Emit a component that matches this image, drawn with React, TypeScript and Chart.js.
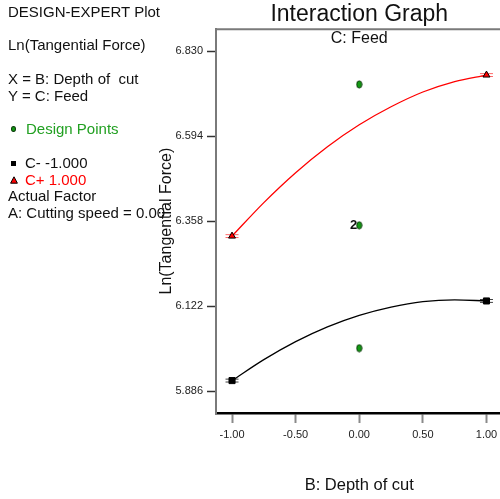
import React, { useEffect, useRef } from "react";
import { Chart, registerables } from "chart.js";

Chart.register(...registerables);

// ---- data ----
const xCurve = [-1, -0.75, -0.5, -0.25, 0, 0.25, 0.5, 0.75, 1];
const cPlusCurve = [6.317, 6.41, 6.493, 6.565, 6.626, 6.676, 6.717, 6.746, 6.764];
const cMinusCurve = [5.916, 5.974, 6.024, 6.065, 6.097, 6.12, 6.135, 6.14, 6.137];
const endX = [-1, 1];
const cPlusEnds = [6.317, 6.764];
const cMinusEnds = [5.916, 6.137];
const lsdHalf = 0.004;
const designX = [0, 0, 0];
const designY = [6.738, 6.347, 6.006];
const designCounts = [1, 2, 1];
const xTicks = [-1, -0.5, 0, 0.5, 1];
const yTicks = [5.886, 6.122, 6.358, 6.594, 6.83];
const xRange = [-1.126, 1.126];
const yRange = [5.826, 6.891];

const FONT = '"Liberation Sans", Arial, Helvetica, sans-serif';

const overlayPlugin = {
  id: "overlay",
  afterDatasetsDraw(chart: any) {
    const { ctx, chartArea, scales } = chart;
    ctx.save();
    ctx.strokeStyle = "#7a7a7a";
    ctx.lineWidth = 2;
    ctx.beginPath();
    ctx.moveTo(chartArea.left - 1, chartArea.top);
    ctx.lineTo(chartArea.right, chartArea.top);
    ctx.stroke();

    ctx.fillStyle = "#111";
    ctx.font = `16px ${FONT}`;
    ctx.textAlign = "center";
    ctx.textBaseline = "middle";
    ctx.fillText("C: Feed", (chartArea.left + chartArea.right) / 2, chartArea.top + 9.5);

    ctx.font = `bold 13px ${FONT}`;
    ctx.textAlign = "right";
    designCounts.forEach((c, i) => {
      if (c > 1) {
        const px = scales.x.getPixelForValue(designX[i]);
        const py = scales.y.getPixelForValue(designY[i]);
        ctx.fillStyle = "#111";
        ctx.fillText(String(c), px - 2, py);
      }
    });
    ctx.restore();
  },
};

const textLines = [
  { text: "DESIGN-EXPERT Plot", left: 8, center: 12, color: "#111" },
  { text: "Ln(Tangential Force)", left: 8, center: 45.3, color: "#111" },
  { text: "X = B: Depth of  cut", left: 8, center: 79.3, color: "#111" },
  { text: "Y = C: Feed", left: 8, center: 96, color: "#111" },
  { text: "Design Points", left: 26, center: 129.3, color: "#22a022" },
  { text: "C- -1.000", left: 25, center: 163.3, color: "#111" },
  { text: "C+ 1.000", left: 25, center: 180, color: "#ff0000" },
  { text: "Actual Factor", left: 8, center: 196, color: "#111" },
  { text: "A: Cutting speed = 0.00", left: 8, center: 212.7, color: "#111" },
];

export default function App() {
  const canvasRef = useRef<HTMLCanvasElement | null>(null);

  useEffect(() => {
    const canvas = canvasRef.current;
    if (!canvas) return;

    const ell = document.createElement("canvas");
    ell.width = 7;
    ell.height = 9;
    const ec = ell.getContext("2d")!;
    ec.beginPath();
    ec.ellipse(3.5, 4.5, 2.6, 3.6, 0, 0, Math.PI * 2);
    ec.fillStyle = "#139a13";
    ec.fill();
    ec.strokeStyle = "#0a3a0a";
    ec.lineWidth = 1;
    ec.stroke();

    const chart = new Chart(canvas, {
      type: "scatter",
      data: {
        datasets: [
          {
            label: "C+ 1.000",
            data: endX.map((x, i) => ({ x, y: cPlusEnds[i] })),
            pointStyle: "triangle",
            pointRadius: 4,
            backgroundColor: "#ff0000",
            borderColor: "#000",
            borderWidth: 1,
            showLine: false,
          },
          {
            label: "C- -1.000",
            data: endX.map((x, i) => ({ x, y: cMinusEnds[i] })),
            pointStyle: "rect",
            pointRadius: 4.3,
            backgroundColor: "#000",
            borderColor: "#000",
            borderWidth: 1,
            showLine: false,
          },
          {
            label: "Design Points",
            data: designX.map((x, i) => ({ x, y: designY[i] })),
            pointStyle: ell as any,
            pointRadius: 4,
            showLine: false,
          },
          {
            label: "C+ LSD",
            data: [
              ...endX.map((x, i) => ({ x, y: cPlusEnds[i] + lsdHalf })),
              ...endX.map((x, i) => ({ x, y: cPlusEnds[i] - lsdHalf })),
            ],
            pointStyle: "line",
            pointRadius: 6.5,
            borderColor: "rgba(255,0,0,0.6)",
            borderWidth: 1,
            showLine: false,
          },
          {
            label: "C- LSD",
            data: [
              ...endX.map((x, i) => ({ x, y: cMinusEnds[i] + lsdHalf })),
              ...endX.map((x, i) => ({ x, y: cMinusEnds[i] - lsdHalf })),
            ],
            pointStyle: "line",
            pointRadius: 6.5,
            borderColor: "rgba(0,0,0,0.75)",
            borderWidth: 1,
            showLine: false,
          },
          {
            label: "C+ curve",
            data: xCurve.map((x, i) => ({ x, y: cPlusCurve[i] })),
            showLine: true,
            borderColor: "#ff0000",
            borderWidth: 1.3,
            pointRadius: 0,
            cubicInterpolationMode: "monotone",
          },
          {
            label: "C- curve",
            data: xCurve.map((x, i) => ({ x, y: cMinusCurve[i] })),
            showLine: true,
            borderColor: "#000",
            borderWidth: 1.3,
            pointRadius: 0,
            cubicInterpolationMode: "monotone",
          },
        ],
      },
      options: {
        animation: false,
        responsive: false,
        devicePixelRatio: 1,
        layout: { padding: { left: 150, right: 7, top: 0, bottom: 0 } },
        plugins: {
          legend: { display: false },
          tooltip: { enabled: false },
          title: {
            display: true,
            text: "Interaction Graph",
            fullSize: false,
            color: "#111",
            font: { family: FONT, size: 23, weight: "normal", lineHeight: 1.1 },
            padding: { top: 2, bottom: 2 },
          },
        },
        scales: {
          x: {
            type: "linear",
            min: xRange[0],
            max: xRange[1],
            afterBuildTicks: (s: any) => {
              s.ticks = xTicks.map((v) => ({ value: v }));
            },
            afterFit: (s: any) => {
              s.height = 86;
            },
            ticks: {
              color: "#222",
              font: { family: FONT, size: 11 },
              padding: 5,
              maxRotation: 0,
              callback: (v: any) => Number(v).toFixed(2),
            },
            grid: {
              drawOnChartArea: false,
              drawTicks: true,
              tickLength: 10,
              tickColor: "#8a8a8a",
              tickWidth: 2,
            },
            border: { display: true, color: "#000", width: 2.5 },
            title: {
              display: true,
              text: "B: Depth of cut",
              color: "#111",
              font: { family: FONT, size: 16.5 },
              padding: { top: 0, bottom: 3.5 },
            },
          },
          y: {
            type: "linear",
            min: yRange[0],
            max: yRange[1],
            afterBuildTicks: (s: any) => {
              s.ticks = yTicks.map((v) => ({ value: v }));
            },
            afterFit: (s: any) => {
              s.width = 66;
            },
            ticks: {
              color: "#222",
              font: { family: FONT, size: 11 },
              padding: 4,
              callback: (v: any) => Number(v).toFixed(3),
            },
            grid: {
              drawOnChartArea: false,
              drawTicks: true,
              tickLength: 9,
              tickColor: "#333",
              tickWidth: 1.5,
            },
            border: { display: true, color: "#7a7a7a", width: 2 },
            title: {
              display: true,
              text: "Ln(Tangential Force)",
              color: "#111",
              font: { family: FONT, size: 16 },
              padding: { top: 7, bottom: 0 },
            },
          },
        },
      },
      plugins: [overlayPlugin],
    } as any);

    return () => chart.destroy();
  }, []);

  return (
    <div
      style={{
        position: "fixed",
        left: 0,
        top: 0,
        width: 500,
        height: 499,
        overflow: "hidden",
        background: "#fff",
      }}
    >
      <canvas
        ref={canvasRef}
        width={510}
        height={499}
        style={{ position: "absolute", left: 0, top: 0, width: 510, height: 499 }}
      />
      {textLines.map((l, i) => (
        <div
          key={i}
          style={{
            position: "absolute",
            left: l.left,
            top: l.center - 9,
            height: 18,
            lineHeight: "18px",
            fontSize: 15,
            fontFamily: FONT,
            color: l.color,
            whiteSpace: "pre",
          }}
        >
          {l.text}
        </div>
      ))}
      <span
        style={{
          position: "absolute",
          left: 10.8,
          top: 126.3,
          width: 5,
          height: 6,
          borderRadius: "50%",
          background: "#139a13",
          border: "1px solid #0a3a0a",
          boxSizing: "border-box",
        }}
      />
      <span
        style={{
          position: "absolute",
          left: 11,
          top: 160.8,
          width: 5,
          height: 5,
          background: "#000",
        }}
      />
      <svg
        style={{ position: "absolute", left: 9.5, top: 176 }}
        width={8}
        height={8}
        viewBox="0 0 8 8"
      >
        <polygon points="4,0.8 7.4,7.2 0.6,7.2" fill="#ff0000" stroke="#000" strokeWidth={1} />
      </svg>
    </div>
  );
}
